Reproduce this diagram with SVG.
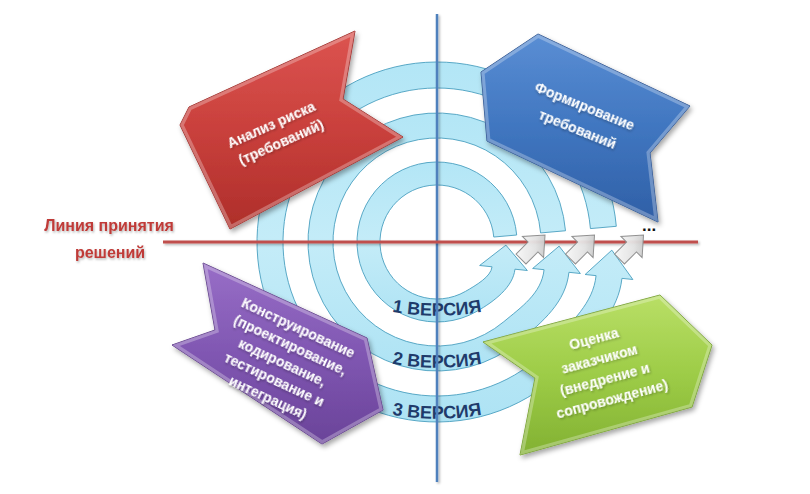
<svg xmlns="http://www.w3.org/2000/svg" width="810" height="494" viewBox="0 0 810 494">
  <defs>
    <style>
      .ring { fill: url(#ringFill); stroke: #4a9fc0; stroke-width: 0.9; }
      .hop { fill: url(#hopFill); stroke: #8c8c8c; stroke-width: 1; }
      .stage-label { font-family: "Liberation Sans", Arial, sans-serif; font-weight: bold; font-size: 14px; fill: #ffffff; text-anchor: middle; }
      .version { font-family: "Liberation Sans", Arial, sans-serif; font-weight: bold; font-size: 18px; fill: #1f3b6b; text-anchor: middle; }
      .decision { font-family: "Liberation Sans", Arial, sans-serif; font-weight: bold; font-size: 16px; fill: #bf3a37; text-anchor: middle; }
      .rim { fill: none; stroke: #ffffff; stroke-opacity: 0.28; stroke-width: 7; }
    </style>
    <linearGradient id="ringFill" x1="0" y1="0" x2="0" y2="1">
      <stop offset="0" stop-color="#b3e6f6"/>
      <stop offset="0.5" stop-color="#c4ecf8"/>
      <stop offset="1" stop-color="#aee3f4"/>
    </linearGradient>
    <linearGradient id="hopFill" x1="0" y1="0" x2="1" y2="1">
      <stop offset="0" stop-color="#ffffff"/>
      <stop offset="0.55" stop-color="#e2e2e2"/>
      <stop offset="1" stop-color="#b4b4b4"/>
    </linearGradient>
    <linearGradient id="redFill" x1="0" y1="0" x2="0" y2="1">
      <stop offset="0" stop-color="#dc5450"/>
      <stop offset="0.5" stop-color="#c9403c"/>
      <stop offset="1" stop-color="#ae2e2a"/>
    </linearGradient>
    <linearGradient id="blueFill" x1="0" y1="0" x2="0" y2="1">
      <stop offset="0" stop-color="#5a8ed4"/>
      <stop offset="0.5" stop-color="#4076c0"/>
      <stop offset="1" stop-color="#2f5fa6"/>
    </linearGradient>
    <linearGradient id="purpleFill" x1="0" y1="0" x2="0" y2="1">
      <stop offset="0" stop-color="#986ec7"/>
      <stop offset="0.5" stop-color="#8057b2"/>
      <stop offset="1" stop-color="#6a4399"/>
    </linearGradient>
    <linearGradient id="greenFill" x1="0" y1="0" x2="0" y2="1">
      <stop offset="0" stop-color="#b9df66"/>
      <stop offset="0.5" stop-color="#9dcc47"/>
      <stop offset="1" stop-color="#82b132"/>
    </linearGradient>
    <filter id="shadow" x="-20%" y="-20%" width="140%" height="150%">
      <feDropShadow dx="2" dy="3" stdDeviation="2.5" flood-color="#000" flood-opacity="0.35"/>
    </filter>
    <filter id="softShadow" x="-10%" y="-50%" width="120%" height="200%">
      <feDropShadow dx="1" dy="1.5" stdDeviation="1" flood-color="#000" flood-opacity="0.3"/>
    </filter>
    <!-- line shadows need a user-space region: a straight line has a zero-size box -->
    <filter id="lineShadow" filterUnits="userSpaceOnUse" x="0" y="0" width="810" height="494">
      <feDropShadow dx="1.5" dy="1.5" stdDeviation="1" flood-color="#000" flood-opacity="0.3"/>
    </filter>
    <clipPath id="clipRed"><polygon points="355,31 343,99 403,137 230,229 180,125 189,107"/></clipPath>
    <clipPath id="clipBlue"><polygon points="538,34 690,106 650,153 658,222 487,141 481,72"/></clipPath>
    <clipPath id="clipPurple"><polygon points="203,263 367,338 383,410 322,444 172,345 215,330"/></clipPath>
    <clipPath id="clipGreen"><polygon points="483,342 660,295 712,345 692,407 520,455 535,378"/></clipPath>
    <!-- one hop arrow, pointing along +x -->
    <path id="hopShape" d="M -17 -7 L 0 -7 L 0 -15 L 17 0 L 0 15 L 0 7 L -17 7 Z"/>
    <!-- shallow arcs that carry the version captions (lowest point = baseline) -->
    <path id="arc1" d="M 337 295 A 250 250 0 0 0 537 295"/>
    <path id="arc2" d="M 337 347 A 250 250 0 0 0 537 347"/>
    <path id="arc3" d="M 337 398 A 250 250 0 0 0 537 398"/>
  </defs>

  <rect width="810" height="494" fill="#ffffff"/>

  <!-- spiral of iterations: three rings, each ending in an upward arrow -->
  <g id="rings">
    <path class="ring" d="M 516.70 235.03 A 80 80 0 1 0 477 311.28 C 494.32 301.28 513.06 287.10 514.94 269.20 L 527.37 270.51 L 505.90 245.13 L 479.63 265.49 L 492.06 266.80 C 491.01 276.75 475.89 285.36 465.5 291.36 A 57 57 0 1 1 493.78 237.03 Z"/>
    <path class="ring" d="M 565.51 230.76 A 129 129 0 1 0 519.92 340.81 C 542.90 321.53 565.79 302.15 568.93 272.31 L 580.37 273.51 L 559.11 246.14 L 532.63 268.49 L 544.07 269.69 C 541.56 293.56 520.70 307.52 503.85 321.66 A 104 104 0 1 1 540.60 232.94 Z"/>
    <path class="ring" d="M 616.31 226.31 A 180 180 0 1 0 574.88 357.70 C 595.45 333.19 618.59 310.18 621.93 278.36 L 632.87 279.51 L 611.82 250.15 L 585.13 274.49 L 596.07 275.64 C 593.14 303.49 571.67 321.07 554.96 340.99 A 154 154 0 1 1 590.41 228.58 Z"/>
  </g>

  <g id="version-labels">
    <text class="version"><textPath href="#arc1" startOffset="50%">1 ВЕРСИЯ</textPath></text>
    <text class="version"><textPath href="#arc2" startOffset="50%">2 ВЕРСИЯ</textPath></text>
    <text class="version"><textPath href="#arc3" startOffset="50%">3 ВЕРСИЯ</textPath></text>
  </g>

  <!-- axes: time line and decision line, plus hops between rings -->
  <g id="connectors">
    <line x1="437" y1="14" x2="437" y2="482" stroke="#4f81bd" stroke-width="2.5" filter="url(#lineShadow)"/>
    <line x1="163" y1="242" x2="698" y2="242" stroke="#c0504d" stroke-width="3" filter="url(#lineShadow)"/>
    <g opacity="0.95">
      <use href="#hopShape" class="hop" transform="translate(533 247) rotate(-45)"/>
      <use href="#hopShape" class="hop" transform="translate(582.5 247) rotate(-45)"/>
      <use href="#hopShape" class="hop" transform="translate(631.5 247) rotate(-45)"/>
    </g>
  </g>

  <g id="decision-label">
    <text class="decision" x="109" y="231" filter="url(#softShadow)">Линия принятия</text>
    <text class="decision" x="110" y="258" filter="url(#softShadow)">решений</text>
  </g>

  <text id="ellipsis" x="642" y="231" font-family="Liberation Sans, Arial, sans-serif" font-weight="bold" font-size="17" fill="#111111">...</text>

  <g id="risk-analysis">
    <polygon points="355,31 343,99 403,137 230,229 180,125 189,107" fill="url(#redFill)" stroke="#a02824" stroke-width="1" filter="url(#shadow)"/>
    <polygon class="rim" points="355,31 343,99 403,137 230,229 180,125 189,107" clip-path="url(#clipRed)"/>
    <text class="stage-label" transform="translate(277 133) rotate(-24)" filter="url(#softShadow)">
      <tspan x="0" y="-5">Анализ риска</tspan>
      <tspan x="0" y="15">(требований)</tspan>
    </text>
  </g>

  <g id="requirements">
    <polygon points="538,34 690,106 650,153 658,222 487,141 481,72" fill="url(#blueFill)" stroke="#2a5494" stroke-width="1" filter="url(#shadow)"/>
    <polygon class="rim" points="538,34 690,106 650,153 658,222 487,141 481,72" clip-path="url(#clipBlue)"/>
    <text class="stage-label" transform="translate(582 118) rotate(22)" filter="url(#softShadow)">
      <tspan x="0" y="-7">Формирование</tspan>
      <tspan x="0" y="17">требований</tspan>
    </text>
  </g>

  <g id="construction">
    <polygon points="203,263 367,338 383,410 322,444 172,345 215,330" fill="url(#purpleFill)" stroke="#5e3a8a" stroke-width="1" filter="url(#shadow)"/>
    <polygon class="rim" points="203,263 367,338 383,410 322,444 172,345 215,330" clip-path="url(#clipPurple)"/>
    <text class="stage-label" transform="translate(284 363) rotate(25)" filter="url(#softShadow)">
      <tspan x="0" y="-33">Конструирование</tspan>
      <tspan x="0" y="-14">(проектирование,</tspan>
      <tspan x="0" y="5">кодирование,</tspan>
      <tspan x="0" y="24">тестирование и</tspan>
      <tspan x="0" y="43">интеграция)</tspan>
    </text>
  </g>

  <g id="customer-review">
    <polygon points="483,342 660,295 712,345 692,407 520,455 535,378" fill="url(#greenFill)" stroke="#74a02a" stroke-width="1" filter="url(#shadow)"/>
    <polygon class="rim" points="483,342 660,295 712,345 692,407 520,455 535,378" clip-path="url(#clipGreen)"/>
    <text class="stage-label" transform="translate(604 369) rotate(-15)" filter="url(#softShadow)">
      <tspan x="0" y="-27">Оценка</tspan>
      <tspan x="0" y="-6">заказчиком</tspan>
      <tspan x="0" y="15">(внедрение и</tspan>
      <tspan x="0" y="36">сопровождение)</tspan>
    </text>
  </g>
</svg>
